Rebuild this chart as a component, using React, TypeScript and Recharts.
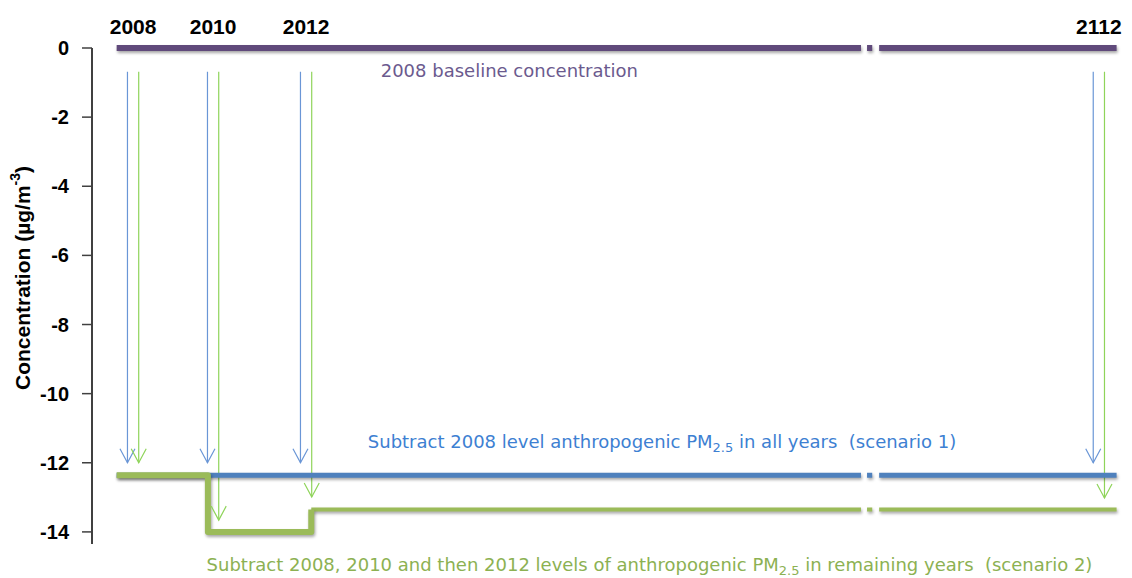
import { LineChart, Line, XAxis, YAxis, ReferenceDot } from "recharts";

// positions on the broken year axis (2112 sits just after the break)
const yearLabels = ["2008", "2010", "2012", "2112"];
const yearSlots = [2008, 2009.85, 2012, 2030.33];
const yTicks = [0, -2, -4, -6, -8, -10, -12, -14];

const lineStart = 2007.62;
const lineEnd = 2030.74;
const breakEdges = [2024.83, 2024.97, 2025.09, 2025.25];

const baselineLevel = 0;
const scenario1Level = -12.36;
const scenario2StepX = [2007.62, 2009.73, 2012.12];
const scenario2StepY = [-12.36, -14.0, -13.35];
const scenario2TailLevel = -13.35;

const arrowTop = -0.69;
const blueArrowX = [2007.87, 2009.72, 2011.87, 2030.2];
const blueArrowTip = [-12.0, -12.0, -12.0, -12.0];
const greenArrowX = [2008.13, 2009.98, 2012.13, 2030.46];
const greenArrowTip = [-12.0, -13.66, -12.99, -13.02];

const PURPLE = "#604a7b";
const BLUE = "#4f81bd";
const GREEN = "#9bbb59";
const ARROW_BLUE = "#6a96d6";
const ARROW_GREEN = "#8fd45a";

const boldFont = "'Liberation Sans', Arial, sans-serif";
const noteFont = "'DejaVu Sans', Verdana, sans-serif";
const shadow = { filter: "drop-shadow(1px 2px 1.5px rgba(0,0,0,0.35))" };

function brokenSeries(x0: number, x1: number, y: number) {
  const [b0, b1, b2, b3] = breakEdges;
  return [
    { x: x0, y },
    { x: b0, y },
    { x: (b0 + b1) / 2, y: null },
    { x: b1, y },
    { x: b2, y },
    { x: (b2 + b3) / 2, y: null },
    { x: b3, y },
    { x: x1, y },
  ];
}

const baselineData = brokenSeries(lineStart, lineEnd, baselineLevel);
const scenario1Data = brokenSeries(lineStart, lineEnd, scenario1Level);
const scenario2StepData = scenario2StepX.map((x, i) => ({ x, y: scenario2StepY[i] }));
const scenario2TailData = brokenSeries(scenario2StepX[2], lineEnd, scenario2TailLevel);

const makeArrows = (xs: number[], tips: number[]) =>
  xs.map((x, i) => [
    { x, y: arrowTop },
    { x, y: tips[i] },
  ]);
const blueArrows = makeArrows(blueArrowX, blueArrowTip);
const greenArrows = makeArrows(greenArrowX, greenArrowTip);

const arrowHead = (color: string) => (props: any) => {
  const { cx, cy, index, key } = props;
  if (index !== 1) return <g key={key} />;
  return (
    <polyline
      key={key}
      points={`${cx - 7.5},${cy - 14} ${cx},${cy} ${cx + 7.5},${cy - 14}`}
      fill="none"
      stroke={color}
      strokeWidth={1.2}
    />
  );
};

function YTitle(props: any) {
  const { viewBox } = props;
  const cx = viewBox.x + 14;
  const cy = viewBox.y + viewBox.height / 2 - 18;
  return (
    <text
      x={cx}
      y={cy}
      transform={`rotate(-90 ${cx} ${cy})`}
      textAnchor="middle"
      dominantBaseline="central"
      fontFamily={boldFont}
      fontWeight={700}
      fontSize={21}
      fill="#000"
    >
      Concentration (µg/m
      <tspan dy={-7} fontSize={14}>
        -3
      </tspan>
      <tspan dy={7}>)</tspan>
    </text>
  );
}

function Note(props: any) {
  const { viewBox, text, sub, rest, color } = props;
  const x = viewBox.x + viewBox.width / 2;
  const y = viewBox.y + viewBox.height / 2;
  return (
    <text
      x={x}
      y={y}
      textAnchor="middle"
      fill={color}
      fontFamily={noteFont}
      fontSize={18}
      style={{ whiteSpace: "pre" }}
    >
      {text}
      {sub && (
        <>
          <tspan dy={4} fontSize={13}>
            {sub}
          </tspan>
          <tspan dy={-4}>{rest}</tspan>
        </>
      )}
    </text>
  );
}

export default function App() {
  return (
    <LineChart width={1124} height={570} margin={{ top: 10, right: 2, bottom: 34, left: 0 }}>
      <XAxis
        type="number"
        dataKey="x"
        orientation="top"
        domain={[2007.05, 2031.05]}
        ticks={yearSlots}
        tickFormatter={(v: number) => yearLabels[yearSlots.indexOf(v)] ?? ""}
        axisLine={false}
        tickLine={false}
        tickSize={0}
        tickMargin={14}
        height={30}
        tick={{ fill: "#000", fontSize: 21, fontWeight: 700, fontFamily: boldFont }}
      />
      <YAxis
        type="number"
        domain={[-14.35, 0]}
        ticks={yTicks}
        width={84}
        tickSize={10}
        tickMargin={13}
        axisLine={{ stroke: "#000", strokeWidth: 1.5 }}
        tickLine={{ stroke: "#404040", strokeWidth: 1.5 }}
        tick={{ fill: "#000", fontSize: 20, fontWeight: 700, fontFamily: boldFont }}
        label={<YTitle />}
      />

      {blueArrows.map((d, i) => (
        <Line
          key={`ba${i}`}
          data={d}
          dataKey="y"
          stroke={ARROW_BLUE}
          strokeWidth={1.2}
          dot={arrowHead(ARROW_BLUE)}
          activeDot={false}
          isAnimationActive={false}
        />
      ))}
      {greenArrows.map((d, i) => (
        <Line
          key={`ga${i}`}
          data={d}
          dataKey="y"
          stroke={ARROW_GREEN}
          strokeWidth={1.2}
          dot={arrowHead(ARROW_GREEN)}
          activeDot={false}
          isAnimationActive={false}
        />
      ))}

      <Line
        data={baselineData}
        dataKey="y"
        stroke={PURPLE}
        strokeWidth={6}
        dot={false}
        activeDot={false}
        style={shadow}
        isAnimationActive={false}
      />
      <Line
        data={scenario1Data}
        dataKey="y"
        stroke={BLUE}
        strokeWidth={5}
        dot={false}
        activeDot={false}
        style={shadow}
        isAnimationActive={false}
      />
      <Line
        data={scenario2TailData}
        dataKey="y"
        stroke={GREEN}
        strokeWidth={4}
        dot={false}
        activeDot={false}
        style={shadow}
        isAnimationActive={false}
      />
      <Line
        data={scenario2StepData}
        dataKey="y"
        type="stepAfter"
        stroke={GREEN}
        strokeWidth={6}
        strokeLinejoin="round"
        dot={false}
        activeDot={false}
        style={shadow}
        isAnimationActive={false}
      />

      <ReferenceDot
        x={2016.7}
        y={-0.84}
        r={0}
        ifOverflow="visible"
        label={<Note text="2008 baseline concentration" color="#6b5a8e" />}
      />
      <ReferenceDot
        x={2020.23}
        y={-11.57}
        r={0}
        ifOverflow="visible"
        label={
          <Note
            text="Subtract 2008 level anthropogenic PM"
            sub="2.5"
            rest=" in all years  (scenario 1)"
            color="#3d80d2"
          />
        }
      />
      <ReferenceDot
        x={2019.94}
        y={-15.12}
        r={0}
        ifOverflow="visible"
        label={
          <Note
            text="Subtract 2008, 2010 and then 2012 levels of anthropogenic PM"
            sub="2.5"
            rest=" in remaining years  (scenario 2)"
            color="#8cb152"
          />
        }
      />
    </LineChart>
  );
}
